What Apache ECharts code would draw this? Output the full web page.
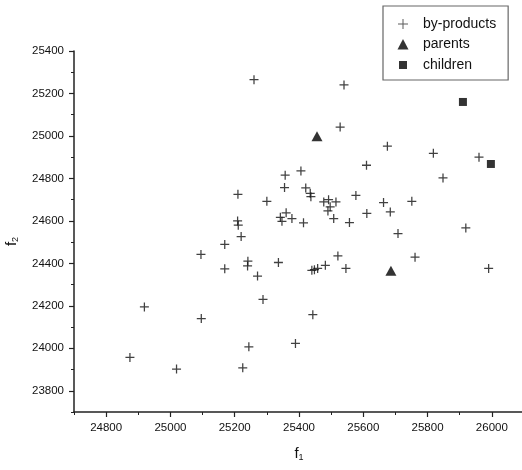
<!DOCTYPE html>
<html>
<head>
<meta charset="utf-8">
<script src="https://cdn.jsdelivr.net/npm/echarts@6/dist/echarts.min.js"></script>
<style>
  html, body { margin: 0; padding: 0; background: #fff; }
  #chart { width: 522px; height: 470px; }
</style>
</head>
<body>
<div id="chart"></div>
<script>
// [f1, f2] pairs
const byProducts = [
    [25260, 25265], [25540, 25240], [25528, 25042], [25675, 24952], [25818, 24918],
    [25960, 24900], [25610, 24862], [25848, 24802], [25406, 24835], [25357, 24815],
    [25355, 24757], [25421, 24755], [25435, 24730], [25437, 24714], [25210, 24725],
    [25300, 24692], [25477, 24689], [25492, 24700], [25515, 24689], [25497, 24666],
    [25490, 24647], [25508, 24611], [25577, 24720], [25663, 24686], [25684, 24642],
    [25751, 24692], [25611, 24635], [25557, 24592], [25342, 24617], [25347, 24598],
    [25360, 24638], [25378, 24611], [25414, 24591], [25209, 24600], [25211, 24580],
    [25220, 24526], [25169, 24489], [25095, 24442], [25169, 24374], [25241, 24410],
    [25240, 24388], [25271, 24340], [25336, 24404], [25708, 24540], [25919, 24567],
    [25521, 24435], [25761, 24429], [25546, 24376], [25990, 24376], [25482, 24391],
    [25440, 24367], [25448, 24370], [25458, 24376], [25288, 24230], [25443, 24158],
    [24919, 24195], [25096, 24140], [25389, 24023], [25244, 24007], [24874, 23957],
    [25019, 23902], [25225, 23908]
];
const parents = [[25456, 24998], [25686, 24365]];
const children = [[25910, 25160], [25997, 24868]];

const xLabels = [24800, 25000, 25200, 25400, 25600, 25800, 26000];
const yLabels = [23800, 24000, 24200, 24400, 24600, 24800, 25000, 25200, 25400];

const PLUS = 'path://M4.3,0 H5.7 V4.3 H10 V5.7 H5.7 V10 H4.3 V5.7 H0 V4.3 H4.3 Z';
const SQUARE_SMALL = 'path://M0,0 M12,12 M2,2 H10 V10 H2 Z';
const TRI_ICON = 'path://M0,0 M12,12 M6,0.5 L11.5,11 H0.5 Z';
const PLUS_ICON = 'path://M0,0 M12,12 M5.5,1 H6.5 V5.5 H11 V6.5 H6.5 V11 H5.5 V6.5 H1 V5.5 H5.5 Z';

const font = 'Liberation Sans, Arial, sans-serif';
const ink = '#111';

function majorAxis(min, max, labels, pos, nameText, nameGap, rot, nameShift) {
    return {
        type: 'value', min: min, max: max, position: pos,
        name: nameText, nameLocation: 'middle', nameGap: nameGap, nameRotate: rot,
        nameMoveOverlap: false,
        nameTextStyle: {
            rich: {
                f: { fontFamily: font, fontSize: 15, color: ink },
                s: { fontFamily: font, fontSize: 9, color: ink, verticalAlign: 'bottom', padding: [8, nameShift, 0, 0] }
            }
        },
        axisLine: { show: true, lineStyle: { color: '#222', width: 1.5 } },
        axisTick: { show: true, inside: false, length: 5, customValues: labels, lineStyle: { color: '#222', width: 1.2 } },
        axisLabel: {
            customValues: labels, fontFamily: font, fontSize: 11.5, color: ink, margin: 10,
            formatter: v => String(v)
        },
        splitLine: { show: false }
    };
}

function minorAxis(min, max, pos) {
    return {
        type: 'value', min: min, max: max, interval: 100, position: pos,
        axisLine: { show: false },
        axisTick: { show: true, inside: false, length: 3, lineStyle: { color: '#222', width: 1 } },
        axisLabel: { show: false },
        splitLine: { show: false }
    };
}

const chart = echarts.init(document.getElementById('chart'));
chart.setOption({
    animation: false,
    backgroundColor: '#fff',
    grid: { left: 74, right: -2, top: 51, bottom: 58, containLabel: false, outerBoundsMode: 'none' },
    legend: {
        orient: 'vertical', left: 383, top: 6,
        padding: [11, 12, 8, 14], itemGap: 6.5, itemWidth: 12, itemHeight: 12,
        borderColor: '#666', borderWidth: 1.2,
        textStyle: { fontFamily: font, fontSize: 14, color: ink, padding: [0, 0, 0, 9] },
        data: [
            { name: 'by-products', icon: PLUS_ICON, itemStyle: { color: '#333' } },
            { name: 'parents', icon: TRI_ICON },
            { name: 'children', icon: SQUARE_SMALL }
        ]
    },
    xAxis: [
        majorAxis(24700, 26100, xLabels, 'bottom', '{f|f}{s|1}', 33, 0, 0),
        minorAxis(24700, 26100, 'bottom')
    ],
    yAxis: [
        majorAxis(23700, 25400, yLabels, 'left', '{f|f}{s|2}', 54, 90, 20),
        minorAxis(23700, 25400, 'left')
    ],
    series: [
        {
            name: 'by-products', type: 'scatter', data: byProducts,
            symbol: PLUS, symbolSize: 9, itemStyle: { color: '#111' }
        },
        {
            name: 'parents', type: 'scatter', data: parents,
            symbol: 'triangle', symbolSize: [11, 10], itemStyle: { color: '#000' }
        },
        {
            name: 'children', type: 'scatter', data: children,
            symbol: 'rect', symbolSize: 8, itemStyle: { color: '#000' }
        }
    ]
});
</script>
</body>
</html>
